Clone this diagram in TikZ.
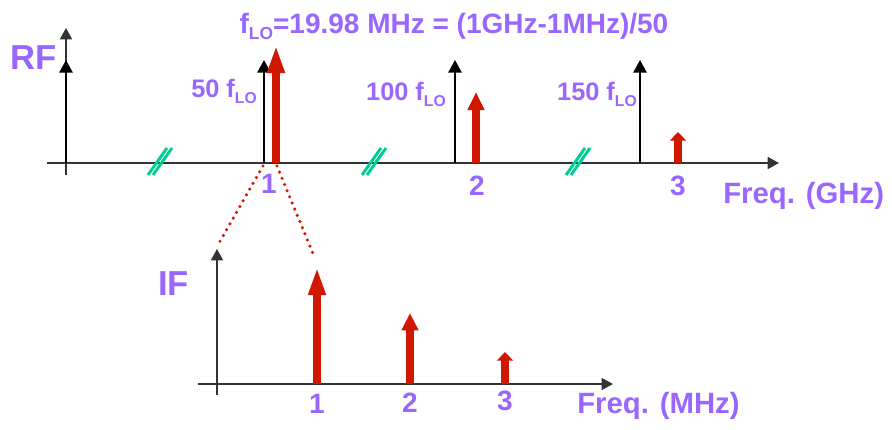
\documentclass[tikz,border=0pt]{standalone}
\usepackage{fontspec}
\setmainfont{Liberation Sans}
\usepackage{graphicx}
\usetikzlibrary{arrows.meta}
\definecolor{lilac}{RGB}{153,102,255}
\definecolor{spikered}{RGB}{208,24,0}
\definecolor{slashgreen}{RGB}{0,204,150}
\newcommand{\flo}{f\raisebox{-0.45ex}{\scalebox{0.62}{LO}}}
\tikzset{
    freqaxis/.style={draw=black!80, line width=1.3pt, -{Triangle[length=8.5pt,width=9pt]}},
    tone/.style={draw=black, line width=1.3pt, -{Triangle[length=9.5pt,width=10pt]}},
    spur/.style={draw=spikered, line width=5.8pt, -{Triangle[length=#1,width=12pt]}},
    zoomline/.style={draw=spikered, line width=2.6pt, line cap=round, dash pattern=on 0pt off 5pt},
    breakmark/.style={draw=slashgreen, line width=2.2pt},
    lbl/.style={text=lilac, inner sep=0pt, font=\bfseries\fontsize{19}{22}\selectfont},
    ticklbl/.style={lbl, font=\bfseries\fontsize{21}{24}\selectfont},
    axislbl/.style={lbl, font=\bfseries\fontsize{22}{26}\selectfont},
    bandlbl/.style={lbl, font=\bfseries\fontsize{26}{30}\selectfont}
}
\begin{document}
\begin{tikzpicture}[x=0.75pt, y=-0.75pt]
\useasboundingbox (0,0) rectangle (892,429);

% RF spectrum: axes
\coordinate (rfstart) at (47,163);
\coordinate (rfend) at (779,163);
\coordinate (rfbottom) at (66,175);
\coordinate (rftop) at (66,28);
\draw [freqaxis] (rfstart) -- (rfend);
\draw [freqaxis] (rfbottom) -- (rftop);

% LO harmonics
\coordinate (dc) at (66,163);    \coordinate (dctip) at (66,60);
\coordinate (h50) at (264,163);  \coordinate (h50tip) at (264,60);
\coordinate (h100) at (455,163); \coordinate (h100tip) at (455,60);
\coordinate (h150) at (640,163); \coordinate (h150tip) at (640,60);
\draw [tone] (dc) -- (dctip);
\draw [tone] (h50) -- (h50tip);
\draw [tone] (h100) -- (h100tip);
\draw [tone] (h150) -- (h150tip);

% RF tones at 1, 2, 3 GHz
\coordinate (rf1) at (276,163); \coordinate (rf1tip) at (276,45);
\coordinate (rf2) at (476,163); \coordinate (rf2tip) at (476,92);
\coordinate (rf3) at (678,163); \coordinate (rf3tip) at (678,132);
\draw [spur=21pt] (rf1) -- (rf1tip);
\draw [spur=13.5pt] (rf2) -- (rf2tip);
\draw [spur=6.5pt] (rf3) -- (rf3tip);

% Axis breaks
\coordinate (b1a) at (148,175); \coordinate (b1b) at (167,148);
\coordinate (b1c) at (153,175); \coordinate (b1d) at (172,148);
\coordinate (b2a) at (362,175); \coordinate (b2b) at (381,148);
\coordinate (b2c) at (367,175); \coordinate (b2d) at (386,148);
\coordinate (b3a) at (566,175); \coordinate (b3b) at (585,148);
\coordinate (b3c) at (571,175); \coordinate (b3d) at (590,148);
\draw [breakmark] (b1a) -- (b1b);
\draw [breakmark] (b1c) -- (b1d);
\draw [breakmark] (b2a) -- (b2b);
\draw [breakmark] (b2c) -- (b2d);
\draw [breakmark] (b3a) -- (b3b);
\draw [breakmark] (b3c) -- (b3d);

% RF labels
\node (rflbl) [bandlbl, anchor=base west] at (10,69) {RF};
\node (title) [lbl, font=\bfseries\fontsize{21}{24}\selectfont, anchor=base] at (454,33) {\flo=19.98 MHz = (1GHz-1MHz)/50};
\node (lbl50) [lbl, anchor=base east] at (257,97) {50 \flo};
\node (lbl100) [lbl, anchor=base east] at (446,100) {100 \flo};
\node (lbl150) [lbl, anchor=base east] at (637,100) {150 \flo};
\node (rftick1) [ticklbl, anchor=base] at (269,193) {1};
\node (rftick2) [ticklbl, anchor=base] at (477,195) {2};
\node (rftick3) [ticklbl, anchor=base] at (678,195) {3};
\node (ghz) [axislbl, anchor=base west] at (723,203) {Freq. (GHz)};

% Zoom into the 1 GHz region
\coordinate (zoomleft) at (263,166);
\coordinate (zoomright) at (277,166);
\coordinate (zoomleftend) at (219,243);
\coordinate (zoomrightend) at (314,256);
\draw [zoomline] (zoomleft) -- (zoomleftend);
\draw [zoomline] (zoomright) -- (zoomrightend);

% IF spectrum: axes
\coordinate (ifstart) at (198,384);
\coordinate (ifend) at (613,384);
\coordinate (ifbottom) at (217,395);
\coordinate (iftop) at (217,249);
\draw [freqaxis, line width=1.1pt] (ifstart) -- (ifend);
\draw [freqaxis, line width=1.1pt] (ifbottom) -- (iftop);

% IF tones at 1, 2, 3 MHz
\coordinate (if1) at (317,384); \coordinate (if1tip) at (317,267);
\coordinate (if2) at (410,384); \coordinate (if2tip) at (410,313);
\coordinate (if3) at (505,384); \coordinate (if3tip) at (505,352);
\draw [spur=21pt] (if1) -- (if1tip);
\draw [spur=13pt] (if2) -- (if2tip);
\draw [spur=6.5pt] (if3) -- (if3tip);

% IF labels
\node (iflbl) [bandlbl, anchor=base west] at (158,295) {IF};
\node (iftick1) [ticklbl, anchor=base] at (317,413) {1};
\node (iftick2) [ticklbl, anchor=base] at (410,412) {2};
\node (iftick3) [ticklbl, anchor=base] at (505,410) {3};
\node (mhz) [axislbl, anchor=base west] at (577,413) {Freq. (MHz)};

\end{tikzpicture}
\end{document}
